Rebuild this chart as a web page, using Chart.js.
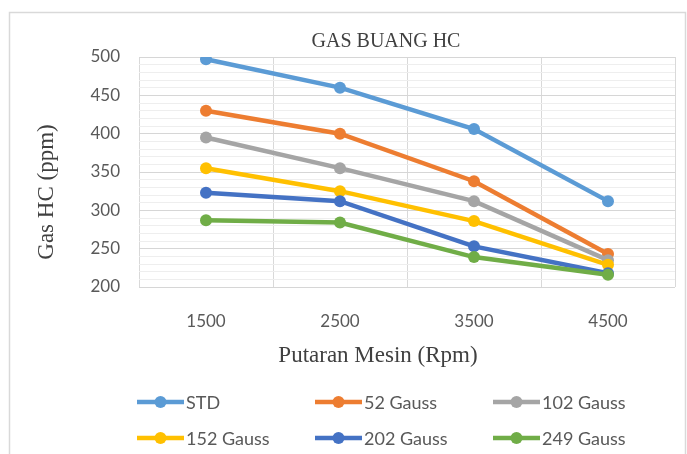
<!DOCTYPE html>
<html>
<head>
<meta charset="utf-8">
<title>Gas Buang HC</title>
<script src="https://cdn.jsdelivr.net/npm/chart.js@4/dist/chart.umd.min.js"></script>
<style>
  html, body { margin: 0; padding: 0; background: #ffffff; }
  canvas { display: block; }
</style>
</head>
<body>
<canvas id="chart" width="687" height="454"></canvas>
<script>
// Engine speed (rpm) categories
const categories = ['1500', '2500', '3500', '4500'];

// HC emission (ppm) per magnet strength
const seriesNames = ['STD', '52 Gauss', '102 Gauss', '152 Gauss', '202 Gauss', '249 Gauss'];
const hcStd      = [497, 460, 406, 312];
const hc52Gauss  = [430, 400, 338, 243];
const hc102Gauss = [395, 355, 312, 235];
const hc152Gauss = [355, 325, 286, 229];
const hc202Gauss = [323, 312, 253, 218];
const hc249Gauss = [287, 284, 239, 216];

// Labelled y values
const yTickLabels = [200, 250, 300, 350, 400, 450, 500];

const seriesValues = [hcStd, hc52Gauss, hc102Gauss, hc152Gauss, hc202Gauss, hc249Gauss];
const seriesColors = ['#5B9BD5', '#ED7D31', '#A5A5A5', '#FFC000', '#4472C4', '#70AD47'];

const datasets = seriesNames.map((name, i) => ({
  label: name,
  data: seriesValues[i],
  borderColor: seriesColors[i],
  backgroundColor: seriesColors[i],
  borderWidth: 4.5,
  pointRadius: 6,
  pointHoverRadius: 6,
  pointBorderWidth: 0,
  tension: 0,
  order: seriesNames.length - i // later series drawn on top
}));

const serif = '"Liberation Serif", "Times New Roman", serif';
const sans = 'Lato, "Open Sans", sans-serif';

// Frame, titles and a three-column legend drawn on the canvas
const decorations = {
  id: 'decorations',
  beforeDraw(chart) {
    const ctx = chart.ctx;
    ctx.save();
    ctx.fillStyle = '#ffffff';
    ctx.fillRect(0, 0, chart.width, chart.height);
    ctx.restore();
  },
  afterDraw(chart) {
    const ctx = chart.ctx;
    ctx.save();
    // outer frame
    ctx.strokeStyle = '#d9d9d9';
    ctx.lineWidth = 1.5;
    ctx.beginPath();
    ctx.moveTo(9.5, chart.height);
    ctx.lineTo(9.5, 12.5);
    ctx.lineTo(685.5, 12.5);
    ctx.lineTo(685.5, chart.height);
    ctx.stroke();

    // chart title
    ctx.fillStyle = '#404040';
    ctx.textAlign = 'center';
    ctx.textBaseline = 'middle';
    ctx.font = '20px ' + serif;
    ctx.fillText('GAS BUANG HC', 386, 42);

    // axis titles
    ctx.font = '23px ' + serif;
    ctx.fillText('Putaran Mesin (Rpm)', 378, 356);
    ctx.save();
    ctx.translate(47, 192);
    ctx.rotate(-Math.PI / 2);
    ctx.fillText('Gas HC (ppm)', 0, 0);
    ctx.restore();

    // legend
    const colX = [137, 315, 493];
    const rowY = [402, 438];
    ctx.font = '18px ' + sans;
    ctx.textAlign = 'left';
    chart.data.datasets.forEach((ds, i) => {
      const x = colX[i % 3];
      const y = rowY[Math.floor(i / 3)];
      ctx.strokeStyle = ds.borderColor;
      ctx.lineWidth = 4.5;
      ctx.beginPath();
      ctx.moveTo(x, y);
      ctx.lineTo(x + 47, y);
      ctx.stroke();
      ctx.fillStyle = ds.borderColor;
      ctx.beginPath();
      ctx.arc(x + 23.5, y, 6, 0, Math.PI * 2);
      ctx.fill();
      ctx.fillStyle = '#595959';
      ctx.fillText(ds.label, x + 49, y + 1);
    });
    ctx.restore();
  }
};

new Chart(document.getElementById('chart'), {
  type: 'line',
  data: { labels: categories, datasets },
  plugins: [decorations],
  options: {
    responsive: false,
    animation: false,
    layout: { padding: { left: 0, top: 57, right: 12, bottom: 0 } },
    plugins: {
      legend: { display: false },
      title: { display: false },
      tooltip: { enabled: false }
    },
    scales: {
      x: {
        type: 'category',
        offset: true,
        grid: { offset: true, color: '#d9d9d9', lineWidth: 1, drawTicks: false },
        border: { display: false },
        ticks: { color: '#595959', font: { family: sans, size: 17 }, padding: 24, maxRotation: 0 },
        afterFit(axis) { axis.height = 167; }
      },
      y: {
        min: yTickLabels[0],
        max: yTickLabels[yTickLabels.length - 1],
        grid: {
          drawTicks: false,
          color: c => (c.tick && yTickLabels.includes(c.tick.value)) ? '#d6d6d6' : '#eeeeee',
          lineWidth: 1
        },
        border: { display: false },
        ticks: {
          stepSize: 10,
          autoSkip: false,
          color: '#595959',
          font: { family: sans, size: 17 },
          padding: 19,
          callback: v => yTickLabels.includes(v) ? String(v) : ''
        },
        afterFit(axis) { axis.width = 139; }
      }
    }
  }
});
</script>
</body>
</html>
